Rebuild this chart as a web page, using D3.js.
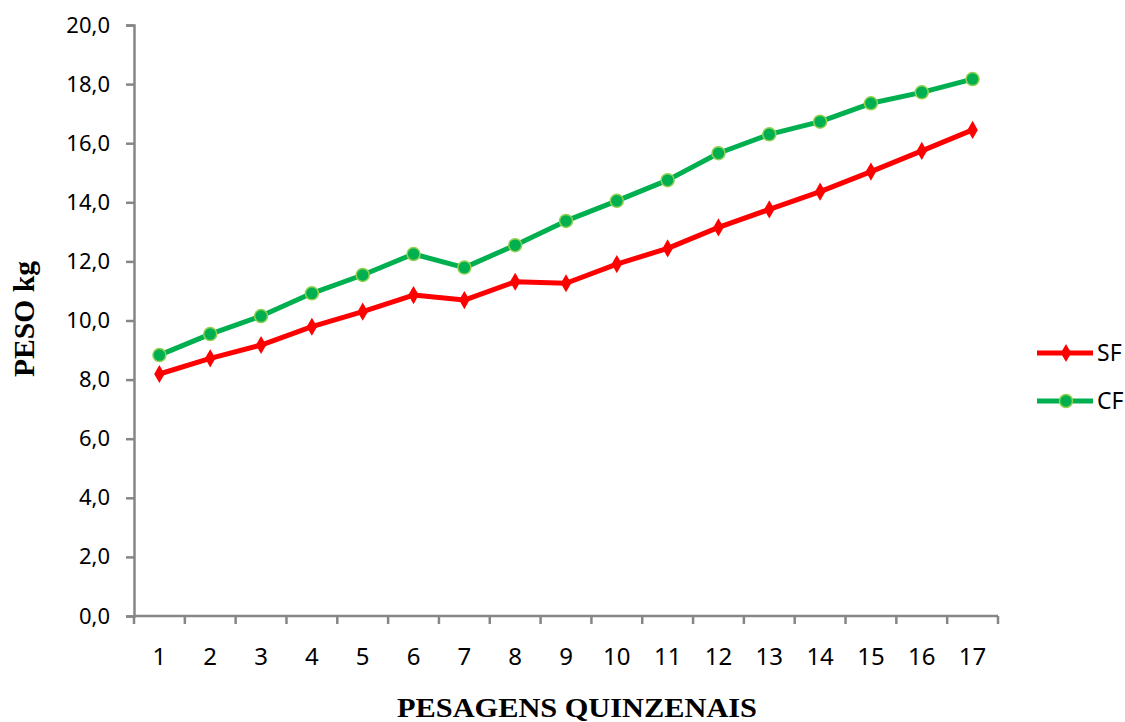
<!DOCTYPE html>
<html>
<head>
<meta charset="utf-8">
<script src="https://cdn.jsdelivr.net/npm/d3@7"></script>
<style>
  body { margin: 0; background: #fff; }
</style>
</head>
<body>
<div id="vis-container"></div>
<script>
const width = 1125,
      height = 722,
      margin = {
          top: 25,
          bottom: 106,   // x axis at y=616
          left: 134,
          right: 127
      };

// pesagens quinzenais 1..17
var pesagens = ["1","2","3","4","5","6","7","8","9","10","11","12","13","14","15","16","17"];
// SF (red), CF (green) - peso kg
var pesoSF = [8.19, 8.72, 9.17, 9.79, 10.30, 10.86, 10.69, 11.31, 11.26, 11.91, 12.44, 13.15, 13.76, 14.36, 15.04, 15.74, 16.45];
var pesoCF = [8.83, 9.54, 10.15, 10.92, 11.54, 12.25, 11.79, 12.55, 13.37, 14.05, 14.75, 15.66, 16.30, 16.73, 17.35, 17.72, 18.17];
var yTicks = [0, 2, 4, 6, 8, 10, 12, 14, 16, 18, 20];
var seriesNames = ["SF", "CF"];

const red = "#ff0000", green = "#00b050", greenEdge = "#92d050", axisColor = "#868686";

var svg = d3.select("#vis-container").append("svg")
    .attr("width", width)
    .attr("height", height);

// ******* Scales *******
var x = d3.scaleBand().domain(pesagens).range([margin.left, width - margin.right]);
var y = d3.scaleLinear().domain([0, 20]).range([height - margin.bottom, margin.top]);

// ******* Axes *******
var yAxis = svg.append("g")
    .attr("transform", `translate(${margin.left} 0)`)
    .call(d3.axisLeft(y).tickValues(yTicks).tickSize(8).tickPadding(16)
        .tickFormat(function(d) { return d3.format(".1f")(d).replace(".", ","); }));
yAxis.selectAll("text")
    .attr("font-family", "Noto Sans")
    .attr("font-size", 22)
    .attr("fill", "#000");

// x axis: ticks sit on band boundaries, labels in band centres
var xAxis = svg.append("g")
    .attr("transform", `translate(0 ${height - margin.bottom})`);
xAxis.append("line")
    .attr("x1", margin.left).attr("x2", width - margin.right);
var bounds = pesagens.map(function(d) { return x(d); }).concat([x(pesagens[pesagens.length - 1]) + x.bandwidth()]);
xAxis.selectAll(".xtick").data(bounds).enter().append("line")
    .attr("class", "xtick")
    .attr("x1", function(d) { return d; }).attr("x2", function(d) { return d; })
    .attr("y1", 0).attr("y2", 8);
xAxis.selectAll("text").data(pesagens).enter().append("text")
    .attr("x", function(d) { return x(d) + x.bandwidth() / 2; })
    .attr("y", 49)
    .attr("text-anchor", "middle")
    .attr("font-family", "Noto Sans")
    .attr("font-size", 24)
    .text(function(d) { return d; });

svg.selectAll(".domain, .tick line, g line")
    .attr("stroke", axisColor)
    .attr("stroke-width", 2.5);

// ******* Axis titles *******
svg.append("text")
    .attr("transform", "translate(34 319) rotate(-90)")
    .attr("text-anchor", "middle")
    .attr("font-family", "Liberation Serif")
    .attr("font-weight", "bold")
    .attr("font-size", 30)
    .attr("textLength", 116)
    .attr("lengthAdjust", "spacingAndGlyphs")
    .text("PESO kg");

svg.append("text")
    .attr("x", 577)
    .attr("y", 717)
    .attr("text-anchor", "middle")
    .attr("font-family", "Liberation Serif")
    .attr("font-weight", "bold")
    .attr("font-size", 27)
    .attr("textLength", 360)
    .attr("lengthAdjust", "spacingAndGlyphs")
    .text("PESAGENS QUINZENAIS");

// ******* Lines *******
function cx(d, i) { return x(pesagens[i]) + x.bandwidth() / 2; }
var line = d3.line().x(cx).y(function(d) { return y(d); });
var diamond = d3.symbol().type(d3.symbolDiamond).size(95);

svg.append("path").datum(pesoSF)
    .attr("d", line)
    .attr("fill", "none")
    .attr("stroke", red)
    .attr("stroke-width", 5)
    .attr("stroke-linejoin", "round");
svg.selectAll(".sf").data(pesoSF).enter().append("path")
    .attr("class", "sf")
    .attr("transform", function(d, i) { return `translate(${cx(d, i)} ${y(d)})`; })
    .attr("d", diamond)
    .attr("fill", red);

svg.append("path").datum(pesoCF)
    .attr("d", line)
    .attr("fill", "none")
    .attr("stroke", green)
    .attr("stroke-width", 5)
    .attr("stroke-linejoin", "round");
svg.selectAll(".cf").data(pesoCF).enter().append("circle")
    .attr("class", "cf")
    .attr("cx", cx)
    .attr("cy", function(d) { return y(d); })
    .attr("r", 6.5)
    .attr("fill", green)
    .attr("stroke", greenEdge)
    .attr("stroke-width", 1.5);

// ******* Legend *******
var legend = svg.append("g");
seriesNames.forEach(function(name, i) {
    var ly = 353 + i * 48;
    var col = i == 0 ? red : green;
    legend.append("line")
        .attr("x1", 1037).attr("x2", 1093)
        .attr("y1", ly).attr("y2", ly)
        .attr("stroke", col)
        .attr("stroke-width", 5);
    if (i == 0) {
        legend.append("path")
            .attr("transform", `translate(1066 ${ly})`)
            .attr("d", diamond)
            .attr("fill", red);
    } else {
        legend.append("circle")
            .attr("cx", 1066).attr("cy", ly).attr("r", 6.5)
            .attr("fill", green)
            .attr("stroke", greenEdge)
            .attr("stroke-width", 1.5);
    }
    legend.append("text")
        .attr("x", 1097)
        .attr("y", ly + 8)
        .attr("font-family", "Noto Sans")
        .attr("font-size", 23)
        .text(name);
});
</script>
</body>
</html>
